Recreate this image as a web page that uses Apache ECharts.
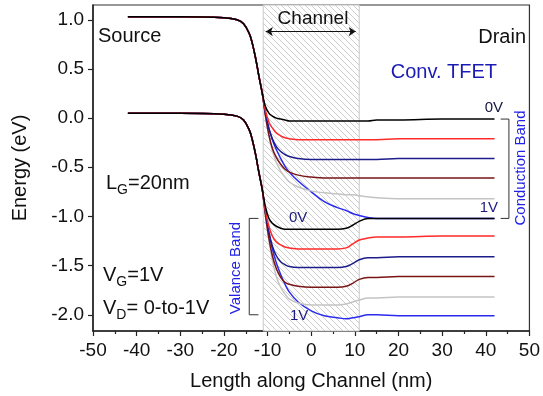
<!DOCTYPE html>
<html>
<head>
<meta charset="utf-8">
<script src="https://cdn.jsdelivr.net/npm/echarts@6/dist/echarts.min.js"></script>
<style>
html, body { margin: 0; padding: 0; background: #fff; }
#chart { width: 543px; height: 396px; }
</style>
</head>
<body>
<div id="chart"></div>
<script>
// position along channel (nm)
var xs = [-42, -30, -20, -17, -15.5, -14.2, -13.5, -12.7, -12, -11.2,
          -10.5, -9.7, -8.9, -8, -7, -6, -5, -3, 0, 3,
          6, 8, 9.5, 11, 13, 15, 20, 30, 42];

// conduction band, VD = 0V .. 1V
var cb0 = [1.03, 1.03, 1.02, 1.0, 0.96, 0.86, 0.76, 0.6, 0.43, 0.25,
           0.12, 0.05, 0.02, 0.0, -0.01, -0.02, -0.03, -0.03, -0.03, -0.03,
           -0.03, -0.03, -0.03, -0.03, -0.03, -0.02, -0.02, -0.01, -0.01];
var cb1 = [1.03, 1.03, 1.02, 1.0, 0.96, 0.86, 0.76, 0.6, 0.43, 0.25,
           0.08, -0.04, -0.1, -0.15, -0.18, -0.2, -0.21, -0.22, -0.22, -0.22,
           -0.22, -0.22, -0.22, -0.22, -0.22, -0.22, -0.21, -0.21, -0.21];
var cb2 = [1.03, 1.03, 1.02, 1.0, 0.96, 0.86, 0.76, 0.6, 0.43, 0.25,
           0.05, -0.11, -0.21, -0.29, -0.34, -0.37, -0.39, -0.41, -0.42, -0.42,
           -0.42, -0.42, -0.42, -0.42, -0.42, -0.42, -0.41, -0.41, -0.41];
var cb3 = [1.03, 1.03, 1.02, 1.0, 0.96, 0.86, 0.76, 0.6, 0.43, 0.25,
           0.03, -0.17, -0.31, -0.4, -0.47, -0.52, -0.55, -0.58, -0.6, -0.61,
           -0.61, -0.61, -0.61, -0.61, -0.61, -0.61, -0.61, -0.61, -0.61];
var cb4 = [1.03, 1.03, 1.02, 1.0, 0.96, 0.86, 0.76, 0.6, 0.43, 0.25,
           0.02, -0.18, -0.33, -0.45, -0.54, -0.6, -0.65, -0.7, -0.74, -0.76,
           -0.77, -0.78, -0.78, -0.79, -0.8, -0.81, -0.82, -0.82, -0.82];
var cb5 = [1.03, 1.03, 1.02, 1.0, 0.96, 0.86, 0.76, 0.6, 0.43, 0.25,
           0.05, -0.1, -0.22, -0.32, -0.41, -0.49, -0.55, -0.64, -0.75, -0.85,
           -0.91, -0.94, -0.97, -0.99, -1.01, -1.02, -1.02, -1.02, -1.02];

// valence band, VD = 0V .. 1V
var vb0 = [0.05, 0.05, 0.04, 0.02, -0.02, -0.12, -0.22, -0.38, -0.55, -0.73,
           -0.9, -1.02, -1.07, -1.1, -1.12, -1.13, -1.13, -1.13, -1.13, -1.13,
           -1.13, -1.12, -1.09, -1.05, -1.02, -1.02, -1.02, -1.02, -1.02];
var vb1 = [0.05, 0.05, 0.04, 0.02, -0.02, -0.12, -0.22, -0.38, -0.55, -0.73,
           -0.94, -1.1, -1.2, -1.26, -1.29, -1.31, -1.32, -1.33, -1.33, -1.33,
           -1.33, -1.32, -1.28, -1.24, -1.22, -1.21, -1.21, -1.2, -1.2];
var vb2 = [0.05, 0.05, 0.04, 0.02, -0.02, -0.12, -0.22, -0.38, -0.55, -0.73,
           -0.96, -1.16, -1.3, -1.4, -1.46, -1.49, -1.51, -1.52, -1.52, -1.52,
           -1.52, -1.51, -1.48, -1.44, -1.42, -1.42, -1.41, -1.41, -1.41];
var vb3 = [0.05, 0.05, 0.04, 0.02, -0.02, -0.12, -0.22, -0.38, -0.55, -0.73,
           -0.98, -1.22, -1.4, -1.53, -1.62, -1.67, -1.69, -1.71, -1.72, -1.72,
           -1.72, -1.71, -1.68, -1.64, -1.62, -1.62, -1.61, -1.61, -1.61];
var vb4 = [0.05, 0.05, 0.04, 0.02, -0.02, -0.12, -0.22, -0.38, -0.55, -0.73,
           -0.99, -1.24, -1.45, -1.61, -1.72, -1.79, -1.84, -1.88, -1.9, -1.9,
           -1.9, -1.89, -1.87, -1.85, -1.83, -1.83, -1.82, -1.82, -1.82];
var vb5 = [0.05, 0.05, 0.04, 0.02, -0.02, -0.12, -0.22, -0.38, -0.55, -0.73,
           -0.97, -1.17, -1.33, -1.47, -1.59, -1.69, -1.77, -1.87, -1.96, -2.01,
           -2.03, -2.04, -2.03, -2.02, -2.0, -2.0, -2.01, -2.01, -2.01];

var yTicks = [-2, -1.5, -1, -0.5, 0, 0.5, 1];
var yMinorTicks = [-1.75, -1.25, -0.75, -0.25, 0.25, 0.75];

// annotation geometry (data coords)
var channelEdges = [-11, 11];
var cbBracket = [[43.4, -0.01], [45.3, -0.01], [45.3, -1.02], [43.4, -1.02]];
var vbBracket = [[-12.1, -1.02], [-14.2, -1.02], [-14.2, -2.0], [-12.1, -2.0]];

var colors = ['#000000', '#ff2a2a', '#1c1c8a', '#7a1515', '#c4c4c4', '#2b2bef'];
var FONT = 'Liberation Sans, Arial, sans-serif';

function pairs(ys) {
    return xs.map(function (x, i) { return [x, ys[i]]; });
}

// hatch pattern for channel
var P = 6;
var pat = document.createElement('canvas');
pat.width = P; pat.height = P;
var pc = pat.getContext('2d');
pc.fillStyle = '#fff';
pc.fillRect(0, 0, P, P);
pc.strokeStyle = '#cdcdcd';
pc.lineWidth = 1;
for (var k = -1; k <= 1; k++) {
    pc.beginPath();
    pc.moveTo(k * P, 0);
    pc.lineTo(k * P + P, P);
    pc.stroke();
}

var cbs = [cb0, cb1, cb2, cb3, cb4, cb5];
var vbs = [vb0, vb1, vb2, vb3, vb4, vb5];
var series = [];

series.push({
    type: 'line', data: [], silent: true, z: 1,
    markArea: {
        silent: true,
        itemStyle: { color: { image: pat, repeat: 'repeat' }, borderColor: '#c8c8c8', borderWidth: 1 },
        data: [[{ xAxis: channelEdges[0] }, { xAxis: channelEdges[1] }]]
    },
    markLine: {
        silent: true,
        symbol: ['arrow', 'arrow'],
        symbolSize: [7, 7],
        label: { show: false },
        lineStyle: { color: '#111', width: 1, type: 'solid' },
        data: [[{ coord: [-10.4, 0.88] }, { coord: [10.2, 0.88] }]]
    }
});

// draw 1V first so 0V black ends on top
for (var i = 5; i >= 0; i--) {
    [cbs[i], vbs[i]].forEach(function (ys) {
        series.push({
            type: 'line',
            data: pairs(ys),
            smooth: 0.4,
            showSymbol: false,
            silent: true,
            lineStyle: { color: colors[i], width: 1.5 }
        });
    });
}

[cbBracket, vbBracket].forEach(function (b) {
    series.push({
        type: 'line', data: b, showSymbol: false, silent: true,
        lineStyle: { color: '#333', width: 1 }
    });
});

function txt(x, y, s, size, color, align, rot) {
    return {
        type: 'text', x: x, y: y, z: 100, rotation: rot || 0, silent: true,
        style: {
            text: s, fontSize: size, lineHeight: 28, fontFamily: FONT, fill: color,
            align: align, verticalAlign: 'middle',
            rich: { s: { fontSize: 14, lineHeight: 14, verticalAlign: 'bottom', fontFamily: FONT, fill: color } }
        }
    };
}

var chart = echarts.init(document.getElementById('chart'));
chart.setOption({
    animation: false,
    grid: { left: 93, right: 11, top: 5, bottom: 64, show: true, borderColor: '#333', borderWidth: 1.2 },
    xAxis: {
        type: 'value', min: -50, max: 50, interval: 10,
        name: 'Length along Channel (nm)', nameLocation: 'middle', nameGap: 40,
        nameTextStyle: { fontSize: 20, color: '#111', fontFamily: FONT },
        axisLine: { show: true, onZero: false, lineStyle: { color: '#222', width: 1.5 } },
        axisTick: { show: true, length: 5, lineStyle: { color: '#222', width: 1.2 } },
        minorTick: { show: true, splitNumber: 2, length: 3, lineStyle: { color: '#222', width: 1.2 } },
        axisLabel: { fontSize: 19, color: '#111', margin: 10, fontFamily: FONT },
        splitLine: { show: false }
    },
    yAxis: [{
        type: 'value', min: -2.165, max: 1.15,
        name: 'Energy (eV)', nameLocation: 'middle', nameGap: 63,
        nameTextStyle: { fontSize: 20, color: '#111', fontFamily: FONT },
        axisLine: { show: true, onZero: false, lineStyle: { color: '#222', width: 1.5 } },
        axisTick: { show: true, length: 5, customValues: yTicks, lineStyle: { color: '#222', width: 1.2 } },
        axisLabel: {
            fontSize: 19, color: '#111', margin: 9, fontFamily: FONT, customValues: yTicks,
            formatter: function (v) { return v.toFixed(1); }
        },
        splitLine: { show: false }
    }, {
        type: 'value', min: -2.165, max: 1.15, position: 'left',
        axisLine: { show: false },
        axisTick: { show: true, length: 3, customValues: yMinorTicks, lineStyle: { color: '#222', width: 1.2 } },
        axisLabel: { show: false },
        splitLine: { show: false }
    }],
    series: series,
    graphic: [
        txt(313, 19, 'Channel', 19, '#111', 'center'),
        txt(98, 36, 'Source', 20, '#111', 'left'),
        txt(526, 37, 'Drain', 20, '#111', 'right'),
        txt(497, 72, 'Conv. TFET', 20, '#1a1ab4', 'right'),
        txt(503, 108, '0V', 15, '#151540', 'right'),
        txt(498, 208, '1V', 15, '#1c1c80', 'right'),
        txt(289, 218, '0V', 15, '#1c1c80', 'left'),
        txt(290, 316, '1V', 15, '#1c1c80', 'left'),
        txt(521, 168, 'Conduction Band', 15, '#2222e6', 'center', Math.PI / 2),
        txt(236, 268, 'Valance Band', 15, '#2222e6', 'center', Math.PI / 2),
        txt(106, 183, 'L{s|G}=20nm', 20, '#111', 'left'),
        txt(103, 275, 'V{s|G}=1V', 20, '#111', 'left'),
        txt(103, 308, 'V{s|D}= 0-to-1V', 20, '#111', 'left')
    ]
});
</script>
</body>
</html>
